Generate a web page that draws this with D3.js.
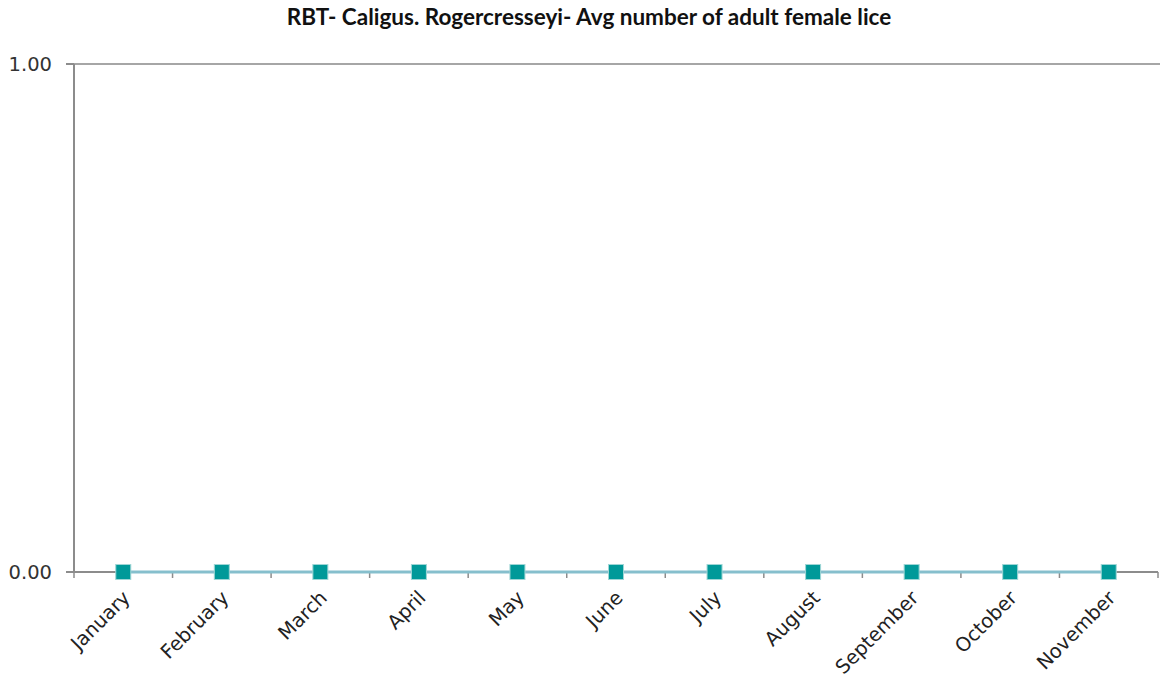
<!DOCTYPE html>
<html><head><meta charset="utf-8">
<script src="https://cdn.jsdelivr.net/npm/d3@7"></script>
<style>body{margin:0;background:#fff}svg{display:block}</style>
</head><body><svg id="c" width="1160" height="681"></svg>
<script>
const months = ["January","February","March","April","May","June","July","August","September","October","November"];
const values = [0,0,0,0,0,0,0,0,0,0,0];
const yTicks = [0, 1];
const title = "RBT- Caligus. Rogercresseyi- Avg number of adult female lice";

const svg = d3.select("#c");
const pLeft = 74, pRight = 1158, pTop = 64, pBottom = 572;
const x = d3.scaleBand().domain(months).range([pLeft, pRight]).padding(0);
const y = d3.scaleLinear().domain([0, 1]).range([pBottom, pTop]);
const titleFont = "Lato, 'Open Sans', sans-serif";
const axisFont = "'DejaVu Sans', Verdana, sans-serif";

svg.append("text").attr("x", 589).attr("y", 25).attr("text-anchor", "middle")
  .attr("font-family", titleFont).attr("font-weight", "bold").attr("font-size", 22.5)
  .attr("fill", "#111").text(title);

// gridline at 1.00
svg.append("line").attr("x1", pLeft - 8).attr("x2", 1160).attr("y1", y(1)).attr("y2", y(1))
  .attr("stroke", "#a6a6a6").attr("stroke-width", 2);

// y axis
svg.append("line").attr("x1", pLeft).attr("x2", pLeft).attr("y1", y(1)).attr("y2", y(0))
  .attr("stroke", "#8c8c8c").attr("stroke-width", 2);
svg.selectAll(".ytick").data(yTicks).enter().append("line")
  .attr("x1", pLeft - 8).attr("x2", pLeft).attr("y1", d => y(d)).attr("y2", d => y(d))
  .attr("stroke", "#8c8c8c").attr("stroke-width", 2);
svg.selectAll(".ylab").data(yTicks).enter().append("text")
  .attr("x", 52).attr("y", d => y(d)).attr("dy", "0.36em").attr("text-anchor", "end")
  .attr("font-family", axisFont).attr("font-size", 19.5).attr("fill", "#333")
  .text(d => d3.format(".2f")(d));

// x axis
svg.append("line").attr("x1", pLeft - 8).attr("x2", pRight).attr("y1", y(0)).attr("y2", y(0))
  .attr("stroke", "#8c8c8c").attr("stroke-width", 2);
const bounds = months.map(m => x(m)).concat([pRight]);
svg.selectAll(".xtick").data(bounds).enter().append("line")
  .attr("x1", d => d).attr("x2", d => d).attr("y1", y(0)).attr("y2", y(0) + 6)
  .attr("stroke", "#8c8c8c").attr("stroke-width", 1.5);
svg.selectAll(".xlab").data(months).enter().append("text")
  .attr("transform", d => `translate(${x(d) + x.bandwidth()/2 + 8},${y(0) + 27}) rotate(-45)`)
  .attr("text-anchor", "end").attr("font-family", axisFont).attr("font-size", 19.5).attr("fill", "#222")
  .text(d => d);

// line
const line = d3.line().x((d, i) => x(months[i]) + x.bandwidth()/2).y(d => y(d));
svg.append("path").datum(values).attr("d", line).attr("fill", "none")
  .attr("stroke", "#86bfcd").attr("stroke-width", 3);
svg.selectAll(".pt").data(values).enter().append("rect")
  .attr("x", (d, i) => x(months[i]) + x.bandwidth()/2 - 7.5).attr("y", d => y(d) - 7.5)
  .attr("width", 15).attr("height", 15)
  .attr("fill", "#009999").attr("stroke", "#9fd6d6").attr("stroke-width", 1);
</script></body></html>
